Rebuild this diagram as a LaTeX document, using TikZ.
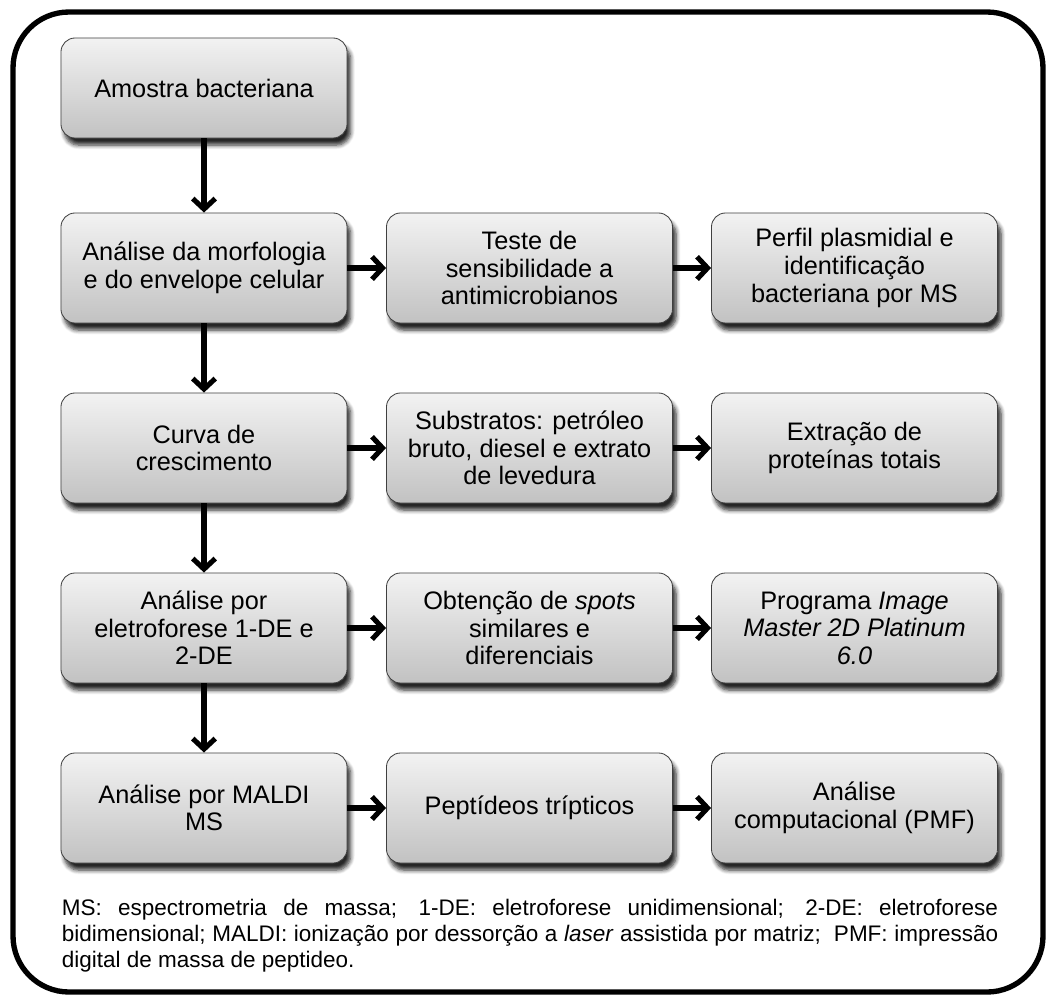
\documentclass[tikz,border=0pt]{standalone}
\usepackage{fontspec}
\setmainfont{Liberation Sans}
\usetikzlibrary{arrows.meta,shadows.blur}

\tikzset{
  etapa/.style={draw=black!75, line width=0.6pt, rounded corners=10pt,
    top color=black!5, bottom color=black!24, align=center,
    minimum width=7.15cm, minimum height=2.75cm, inner sep=2pt,
    font=\fontsize{18}{19.6}\selectfont,
    blur shadow={shadow xshift=2.5pt, shadow yshift=-5pt,
      shadow blur steps=6, shadow blur radius=3pt, shadow opacity=85}},
  seta/.style={line width=3.6pt,
    -{Straight Barb[length=7.5pt,width=16pt,line join=miter]}}
}

\begin{document}
\begin{tikzpicture}[x=0.025cm, y=-0.025cm]
			%%%%% START %%%%%
			\useasboundingbox (0, 0) rectangle (1046, 994);
			
			\draw[line width=3.8pt, rounded corners=1.4cm] (13, 12) rectangle (1043, 992);
			
			% coluna principal
			\node[etapa, minimum height=2.5cm] (amostra) at (204, 88) {Amostra bacteriana};
			\node[etapa] (morfologia) at (204, 268) {Análise da morfologia\\e do envelope celular};
			\node[etapa] (curva) at (204, 448) {Curva de\\crescimento};
			\node[etapa] (eletroforese) at (204, 628) {Análise por\\eletroforese 1-DE e\\2-DE};
			\node[etapa] (maldi) at (204, 808) {Análise por MALDI\\MS};
			
			% segunda coluna
			\node[etapa] (teste) at (529.5, 268) {Teste de\\sensibilidade a\\antimicrobianos};
			\node[etapa] (substratos) at (529.5, 448) {Substratos: petróleo\\bruto, diesel e extrato\\de levedura};
			\node[etapa] (spots) at (529.5, 628) {Obtenção de \textit{spots}\\similares e\\diferenciais};
			\node[etapa] (peptideos) at (529.5, 808) {Peptídeos trípticos};
			
			% terceira coluna
			\node[etapa] (perfil) at (854.5, 268) {Perfil plasmidial e\\identificação\\bacteriana por MS};
			\node[etapa] (extracao) at (854.5, 448) {Extração de\\proteínas totais};
			\node[etapa] (programa) at (854.5, 628) {Programa \textit{Image}\\\textit{Master 2D Platinum}\\\textit{6.0}};
			\node[etapa] (pmf) at (854.5, 808) {Análise\\computacional (PMF)};
			
			\draw[seta] (amostra) -- (morfologia);
			\draw[seta] (morfologia) -- (curva);
			\draw[seta] (curva) -- (eletroforese);
			\draw[seta] (eletroforese) -- (maldi);
			
			\draw[seta] (morfologia) -- (teste);
			\draw[seta] (teste) -- (perfil);
			\draw[seta] (curva) -- (substratos);
			\draw[seta] (substratos) -- (extracao);
			\draw[seta] (eletroforese) -- (spots);
			\draw[seta] (spots) -- (programa);
			\draw[seta] (maldi) -- (peptideos);
			\draw[seta] (peptideos) -- (pmf);
			
			\node[text width=23.4cm, align=justify, inner sep=0pt,
				font=\fontsize{16}{18.6}\selectfont] (legenda) at (530, 936)
				{\hyphenpenalty=10000 MS: espectrometria de massa; 1-DE: eletroforese unidimensional; 2-DE: eletroforese\linebreak
				bidimensional; MALDI: ionização por dessorção a \textit{laser} assistida por matriz;\ \ PMF: impressão\linebreak
				digital de massa de peptideo.};
			
			%%%%% END %%%%%
\end{tikzpicture}
\end{document}
